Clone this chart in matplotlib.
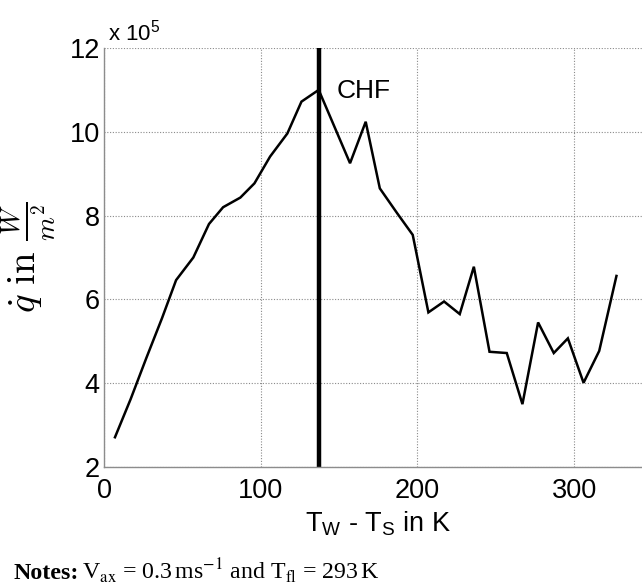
import matplotlib
matplotlib.use("Agg")
import matplotlib.pyplot as plt

# Wall superheat T_W - T_S in K
dT = [7, 17, 27, 37, 46, 57, 67, 76, 87, 96, 106, 117, 126, 137, 157, 167,
      176, 187, 197, 207, 217, 227, 236, 246, 257, 267, 277, 287, 296, 306,
      316, 327]
# Heat flux in units of 10^5 W/m^2
q_1e5 = [2.71, 3.62, 4.60, 5.55, 6.46, 7.00, 7.80, 8.20, 8.43, 8.77, 9.41,
         9.96, 10.72, 11.00, 9.25, 10.24, 8.65, 8.06, 7.54, 5.69, 5.95, 5.65,
         6.78, 4.75, 4.72, 3.50, 5.45, 4.72, 5.07, 4.01, 4.77, 6.56]
chf_dT = 137
x_ticks = [0, 100, 200, 300]
y_ticks = [2, 4, 6, 8, 10, 12]

plt.rcParams["mathtext.fontset"] = "custom"
plt.rcParams["mathtext.rm"] = "Liberation Sans"
plt.rcParams["mathtext.it"] = "Liberation Sans:italic"
plt.rcParams["mathtext.bf"] = "Liberation Sans:bold"

W, H = 642, 585
fig = plt.figure(figsize=(W / 100, H / 100), dpi=100)
ax = fig.add_axes([104 / W, (H - 467) / H, 548.5 / W, 419 / H])

ax.plot(dT, q_1e5, color="black", lw=1.8, solid_joinstyle="miter")
ax.axvline(chf_dT, color="black", lw=3.2)
ax.text(148.5, 10.81, "CHF", fontsize=19, family="Liberation Sans",
        ha="left", va="baseline")

ax.set_xlim(0, 350)
ax.set_ylim(2, 12)
ax.set_xticks(x_ticks)
ax.set_yticks(y_ticks)
ax.grid(True, color="#8a8a8a", linestyle=(0, (1, 1.5)), lw=0.8)
ax.set_axisbelow(True)

for s in ("top", "right"):
    ax.spines[s].set_visible(False)
for s in ("left", "bottom"):
    ax.spines[s].set_color("#8c8c8c")
    ax.spines[s].set_linewidth(1.0)

ax.tick_params(length=0, labelsize=19.5)
ax.tick_params(axis="x", pad=8)
ax.tick_params(axis="y", pad=3)
for lab in ax.get_xticklabels() + ax.get_yticklabels():
    lab.set_family("Liberation Sans")

ax.set_xlabel(r"T$_\mathrm{W}$ - T$_\mathrm{S}$ in K", fontsize=19.5,
              family="Liberation Sans", math_fontfamily="custom", labelpad=4)
ax.set_ylabel(r"$\dot{q}\ \mathrm{in}\ \frac{W}{m^2}$", fontsize=28,
              math_fontfamily="cm", labelpad=8)

fig.text(108 / W, (H - 40.7) / H, r"x 10$^5$", fontsize=16,
         family="Liberation Sans", math_fontfamily="custom", va="baseline")

# Footnote: bold lead-in followed by the operating conditions
note_y = (H - 579) / H
lead = fig.text(13 / W, note_y, "Notes:", fontsize=17.2, weight="bold",
                family="Liberation Serif", va="baseline")
fig.canvas.draw()
x1 = lead.get_window_extent().x1
fig.text((x1 + 4) / W, note_y,
         r"V$_{\mathrm{ax}}$ = 0.3$\,$ms$^{-1}$ and "
         r"T$_{\mathrm{fl}}$ = 293$\,$K",
         fontsize=17.2, family="Liberation Serif", math_fontfamily="stix",
         va="baseline")

fig.savefig("out.png", dpi=100)
